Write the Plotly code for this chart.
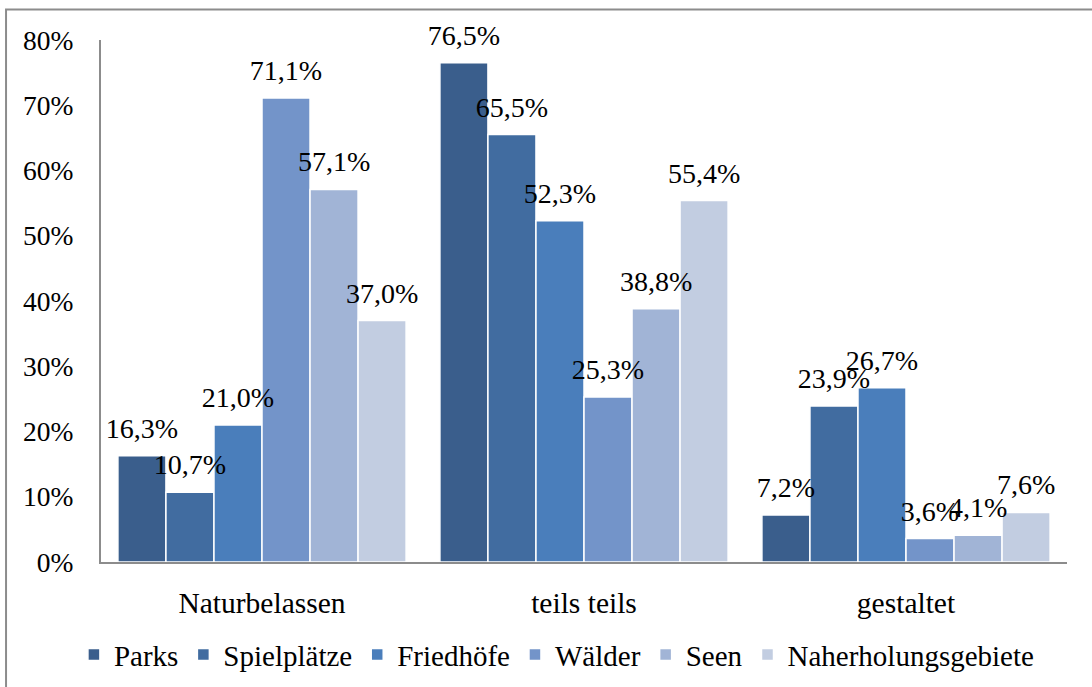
import plotly.graph_objects as go

categories = ["Naturbelassen", "teils teils", "gestaltet"]
series_names = ["Parks", "Spielplätze", "Friedhöfe", "Wälder", "Seen", "Naherholungsgebiete"]
parks = [0.163, 0.765, 0.072]
spielplaetze = [0.107, 0.655, 0.239]
friedhoefe = [0.210, 0.523, 0.267]
waelder = [0.711, 0.253, 0.036]
seen = [0.571, 0.388, 0.041]
naherholung = [0.370, 0.554, 0.076]
series_values = [parks, spielplaetze, friedhoefe, waelder, seen, naherholung]
colors = ["#3A5E8C", "#416CA0", "#4A7EBB", "#7394C9", "#A1B4D6", "#C2CDE1"]
y_ticks = [0, 0.1, 0.2, 0.3, 0.4, 0.5, 0.6, 0.7, 0.8]

FONT = "Liberation Serif"

fig = go.Figure()
for i, (name, vals, col) in enumerate(zip(series_names, series_values, colors)):
    fig.add_trace(go.Bar(
        name=name, x=categories, y=vals, offsetgroup=str(i),
        marker=dict(color=col, line=dict(color="white", width=1.5)),
        hoverinfo="skip",
    ))
for i, (name, vals) in enumerate(zip(series_names, series_values)):
    labels = [f"{v*100:.1f}%".replace(".", ",") for v in vals]
    fig.add_trace(go.Scatter(
        x=categories, y=vals, offsetgroup=str(i), mode="markers+text",
        text=labels, textposition="top center",
        marker=dict(size=16, opacity=0),
        textfont=dict(family=FONT, size=28, color="black"),
        cliponaxis=False, showlegend=False, hoverinfo="skip",
    ))

fig.update_layout(
    width=1092, height=687,
    margin=dict(l=101, r=25, t=40, b=125, autoexpand=False),
    paper_bgcolor="white", plot_bgcolor="white",
    barmode="group", bargap=0.105, bargroupgap=0,
    scattermode="group", scattergap=0.105,
    font=dict(family=FONT, size=28, color="black"),
    showlegend=True,
    legend=dict(orientation="h", xref="container", yref="container",
                x=0.51, xanchor="center", y=0.047, yanchor="middle",
                font=dict(family=FONT, size=29, color="black"),
                itemwidth=30, tracegroupgap=0),
    xaxis=dict(showline=True, linecolor="#8C8C8C", linewidth=2,
               showgrid=False, ticks="", ticklabelstandoff=14,
               tickfont=dict(family=FONT, size=29.5, color="black")),
    yaxis=dict(range=[0, 0.8], tickvals=y_ticks, tickformat=".0%",
               showline=True, linecolor="#8C8C8C", linewidth=2,
               showgrid=False, zeroline=False, ticks="", ticklabelstandoff=20,
               tickfont=dict(family=FONT, size=27.5, color="black")),
    shapes=[dict(type="rect", xref="paper", yref="paper",
                 x0=-0.0983, x1=1.2, y0=-0.5, y1=1.0584,
                 line=dict(color="#8C8C8C", width=2), fillcolor="rgba(0,0,0,0)",
                 layer="below")],
)

fig.write_html("out.html", config={"displayModeBar": False},
               post_script="document.body.style.margin='0';")
